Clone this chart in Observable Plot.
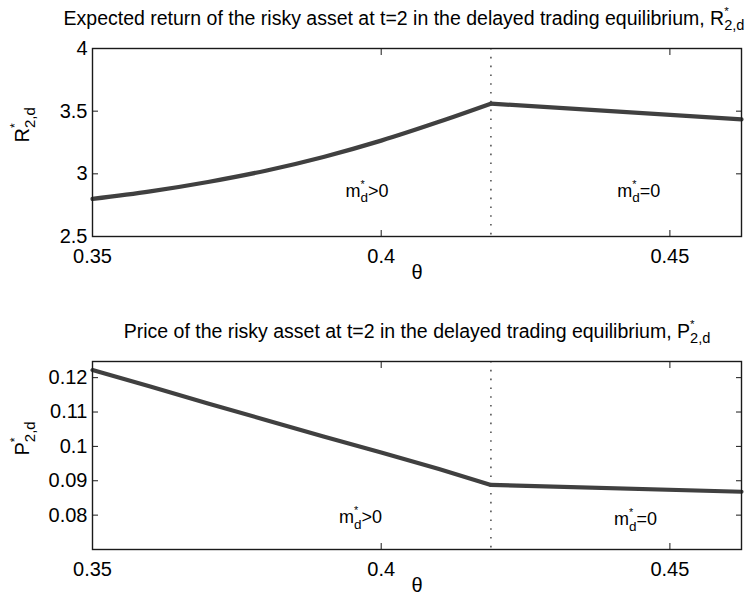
<!DOCTYPE html>
<html>
<head>
<meta charset="utf-8">
<script src="https://cdn.jsdelivr.net/npm/d3@7"></script>
<script src="https://cdn.jsdelivr.net/npm/@observablehq/plot@0.6"></script>
<style>
  body { margin: 0; background: #fff; }
  #chart { width: 746px; height: 602px; }
  #chart svg { display: block; }
</style>
</head>
<body>
<div id="chart"></div>
<script>
// ---- data ----
const thetaR = [0.35, 0.36, 0.37, 0.38, 0.39, 0.40, 0.41, 0.419, 0.4624];
const R2d    = [2.80, 2.86, 2.935, 3.025, 3.135, 3.265, 3.415, 3.56, 3.435];
const thetaP = [0.35, 0.36, 0.37, 0.38, 0.39, 0.40, 0.41, 0.419, 0.4624];
const P2d    = [0.1222, 0.1174, 0.1125, 0.1077, 0.1029, 0.0982, 0.0934, 0.0888, 0.0868];
const threshold = 0.419;                 // boundary between regimes (dotted line)
const xDomain = [0.35, 0.4624];
const xTicks = [0.35, 0.4, 0.45];
const rDomain = [2.5, 4];
const rTicks = [2.5, 3, 3.5, 4];
const pDomain = [0.07, 0.1247];
const pTicks = [0.08, 0.09, 0.1, 0.11, 0.12];
const annR = [
  {x: 0.3938, y: 2.817, label: "m^*_{d}>0"},
  {x: 0.4409, y: 2.815, label: "m^*_{d}=0"}
];
const annP = [
  {x: 0.3927, y: 0.0776, label: "m^*_{d}>0"},
  {x: 0.4403, y: 0.0771, label: "m^*_{d}=0"}
];
const titleR = "Expected return of the risky asset at t=2 in the delayed trading equilibrium, R^*_{2,d}";
const titleP = "Price of the risky asset at t=2 in the delayed trading equilibrium, P^*_{2,d}";
const ylabelR = "R^*_{2,d}";
const ylabelP = "P^*_{2,d}";
const xlabel = "θ";

const font = "'Liberation Sans', Arial, Helvetica, sans-serif";

function segments(xs, ys) {
  // regime m*_d > 0 (smooth) up to the threshold, regime m*_d = 0 from it
  const out = [];
  xs.forEach((t, i) => {
    if (t <= threshold) out.push({t, v: ys[i], z: "a"});
    if (t >= threshold) out.push({t, v: ys[i], z: "b"});
  });
  return out;
}

function panel({height, marginTop, marginBottom, yDomain, yTicks, xs, ys, ann, title, titleDx, ylabel, curve}) {
  const data = segments(xs, ys);
  return Plot.plot({
    width: 746, height,
    marginLeft: 92, marginRight: 5, marginTop, marginBottom,
    style: {fontFamily: font, fontSize: "20px", color: "#000", background: "#fff", overflow: "visible"},
    x: {domain: xDomain},
    y: {domain: yDomain},
    marks: [
      Plot.ruleX([threshold], {stroke: "#555", strokeWidth: 1.6, strokeDasharray: "1.6 7.2"}),
      Plot.line(data, {x: "t", y: "v", z: "z", stroke: "#404040", strokeWidth: 4.2, curve}),
      Plot.frame({stroke: "#1a1a1a", strokeWidth: 1.4}),
      Plot.axisX(xTicks, {anchor: "bottom", tickSize: -6, tickPadding: 18, tickFormat: d => String(d), label: null, stroke: "#1a1a1a", fontSize: 20}),
      Plot.axisX(xTicks, {anchor: "top", tickSize: -6, tickFormat: () => "", label: null, stroke: "#1a1a1a"}),
      Plot.axisY(yTicks, {anchor: "left", tickSize: -6, tickPadding: 11, tickFormat: d => String(d), label: null, stroke: "#1a1a1a", fontSize: 20}),
      Plot.axisY(yTicks, {anchor: "right", tickSize: -6, tickFormat: () => "", label: null, stroke: "#1a1a1a"}),
      Plot.text([title], {frameAnchor: "top", dy: -24, dx: titleDx, lineAnchor: "bottom", fontSize: 19.5}),
      Plot.text([xlabel], {frameAnchor: "bottom", dy: 42, lineAnchor: "bottom", fontSize: 20}),
      Plot.text([ylabel], {frameAnchor: "left", rotate: -90, dx: -64, lineAnchor: "bottom", fontSize: 20}),
      Plot.text(ann, {x: "x", y: "y", text: "label", textAnchor: "start", lineAnchor: "bottom", fontSize: 18})
    ]
  });
}

function richify(svg) {
  d3.select(svg).selectAll("text").each(function() {
    const el = this;
    if (el.querySelector("tspan")) return;
    const s = el.textContent;
    const m = /^(.*?)\^\*_\{(.*?)\}(.*)$/.exec(s);
    if (!m) return;
    const fs = parseFloat(getComputedStyle(el).fontSize) || 18;
    const sel = d3.select(el);
    sel.text(null);
    sel.append("tspan").text(m[1]);
    const sfs = fs * 0.6, bfs = fs * 0.75;
    sel.append("tspan").attr("font-size", sfs).attr("dy", -fs * 0.5).text("*");
    sel.append("tspan").attr("font-size", bfs).attr("dx", -sfs * 0.39).attr("dy", fs * 0.8).text(m[2]);
    if (m[3]) sel.append("tspan").attr("dy", -fs * 0.30).text(m[3]);
  });
}

const topPanel = panel({height: 290, marginTop: 48, marginBottom: 54, yDomain: rDomain, yTicks: rTicks,
  xs: thetaR, ys: R2d, ann: annR, title: titleR, titleDx: -13, ylabel: ylabelR, curve: "monotone-x"});
const bottomPanel = panel({height: 312, marginTop: 71, marginBottom: 53, yDomain: pDomain, yTicks: pTicks,
  xs: thetaP, ys: P2d, ann: annP, title: titleP, titleDx: 0, ylabel: ylabelP, curve: "linear"});
const root = document.getElementById("chart");
root.append(topPanel, bottomPanel);
richify(topPanel);
richify(bottomPanel);
</script>
</body>
</html>
